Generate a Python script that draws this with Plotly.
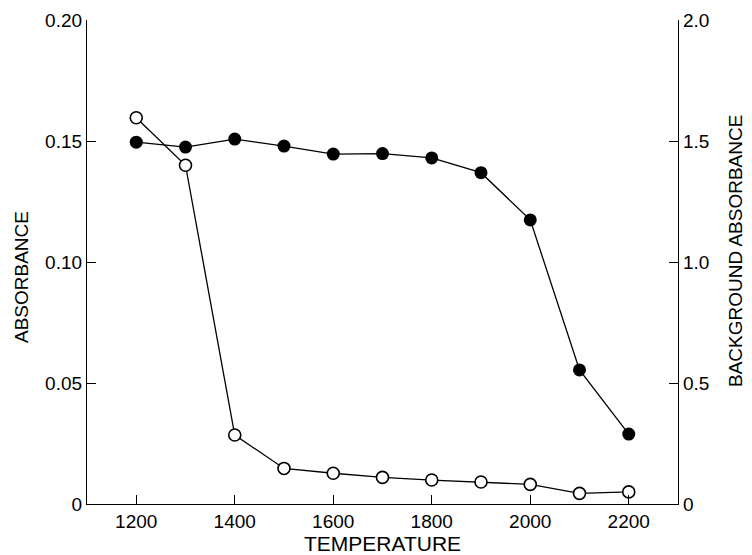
import plotly.graph_objects as go

temperature = [1200, 1300, 1400, 1500, 1600, 1700, 1800, 1900, 2000, 2100, 2200]
absorbance = [0.1495, 0.1475, 0.1508, 0.1479, 0.1446, 0.1448, 0.1430, 0.1369, 0.1174, 0.0554, 0.0289]
background_absorbance = [1.596, 1.400, 0.285, 0.147, 0.127, 0.110, 0.099, 0.091, 0.081, 0.044, 0.050]

x_ticks = [1200, 1400, 1600, 1800, 2000, 2200]
left_ticks = [0, 0.05, 0.10, 0.15, 0.20]
left_ticktext = ["0", "0.05", "0.10", "0.15", "0.20"]
right_ticks = [0, 0.5, 1.0, 1.5, 2.0]
right_ticktext = ["0", "0.5", "1.0", "1.5", "2.0"]

FONT = "Liberation Sans, Arial, Helvetica, sans-serif"

fig = go.Figure()
fig.add_trace(go.Scatter(
    x=temperature, y=absorbance, mode="lines+markers",
    line=dict(color="black", width=1.3),
    marker=dict(symbol="circle", size=13, color="black"),
    name="Absorbance", yaxis="y",
))
fig.add_trace(go.Scatter(
    x=temperature, y=background_absorbance, mode="lines+markers",
    line=dict(color="black", width=1.3),
    marker=dict(symbol="circle", size=12, color="white", line=dict(color="black", width=1.6)),
    name="Background absorbance", yaxis="y2",
))

axis_common = dict(
    showgrid=False, zeroline=False, showline=True, linecolor="black", linewidth=1.3,
    ticks="inside", ticklen=9, tickwidth=1.3, tickcolor="black",
    tickfont=dict(family=FONT, size=19, color="black"),
    automargin=False,
)

fig.update_layout(
    width=744, height=547,
    margin=dict(l=79, r=74, t=12, b=51),
    paper_bgcolor="white", plot_bgcolor="white",
    showlegend=False,
    font=dict(family=FONT, color="black"),
    xaxis=dict(
        range=[1100, 2300], tickvals=x_ticks, ticktext=[str(t) for t in x_ticks],
        title=dict(text="TEMPERATURE", font=dict(family=FONT, size=21), standoff=6),
        **axis_common,
    ),
    yaxis=dict(
        range=[0, 0.20], tickvals=left_ticks, ticktext=left_ticktext,
        **axis_common,
    ),
    yaxis2=dict(
        range=[0, 2.0], tickvals=right_ticks, ticktext=right_ticktext,
        overlaying="y", side="right",
        **axis_common,
    ),
    annotations=[
        dict(text="ABSORBANCE", textangle=-90, showarrow=False,
             xref="paper", yref="paper", x=-0.1117, y=0.469,
             xanchor="center", yanchor="middle",
             font=dict(family=FONT, size=19, color="black")),
        dict(text="BACKGROUND ABSORBANCE", textangle=-90, showarrow=False,
             xref="paper", yref="paper", x=1.1066, y=0.5227, xshift=-6,
             xanchor="center", yanchor="middle",
             font=dict(family=FONT, size=19, color="black")),
    ],
)

fig.write_html("out.html")
